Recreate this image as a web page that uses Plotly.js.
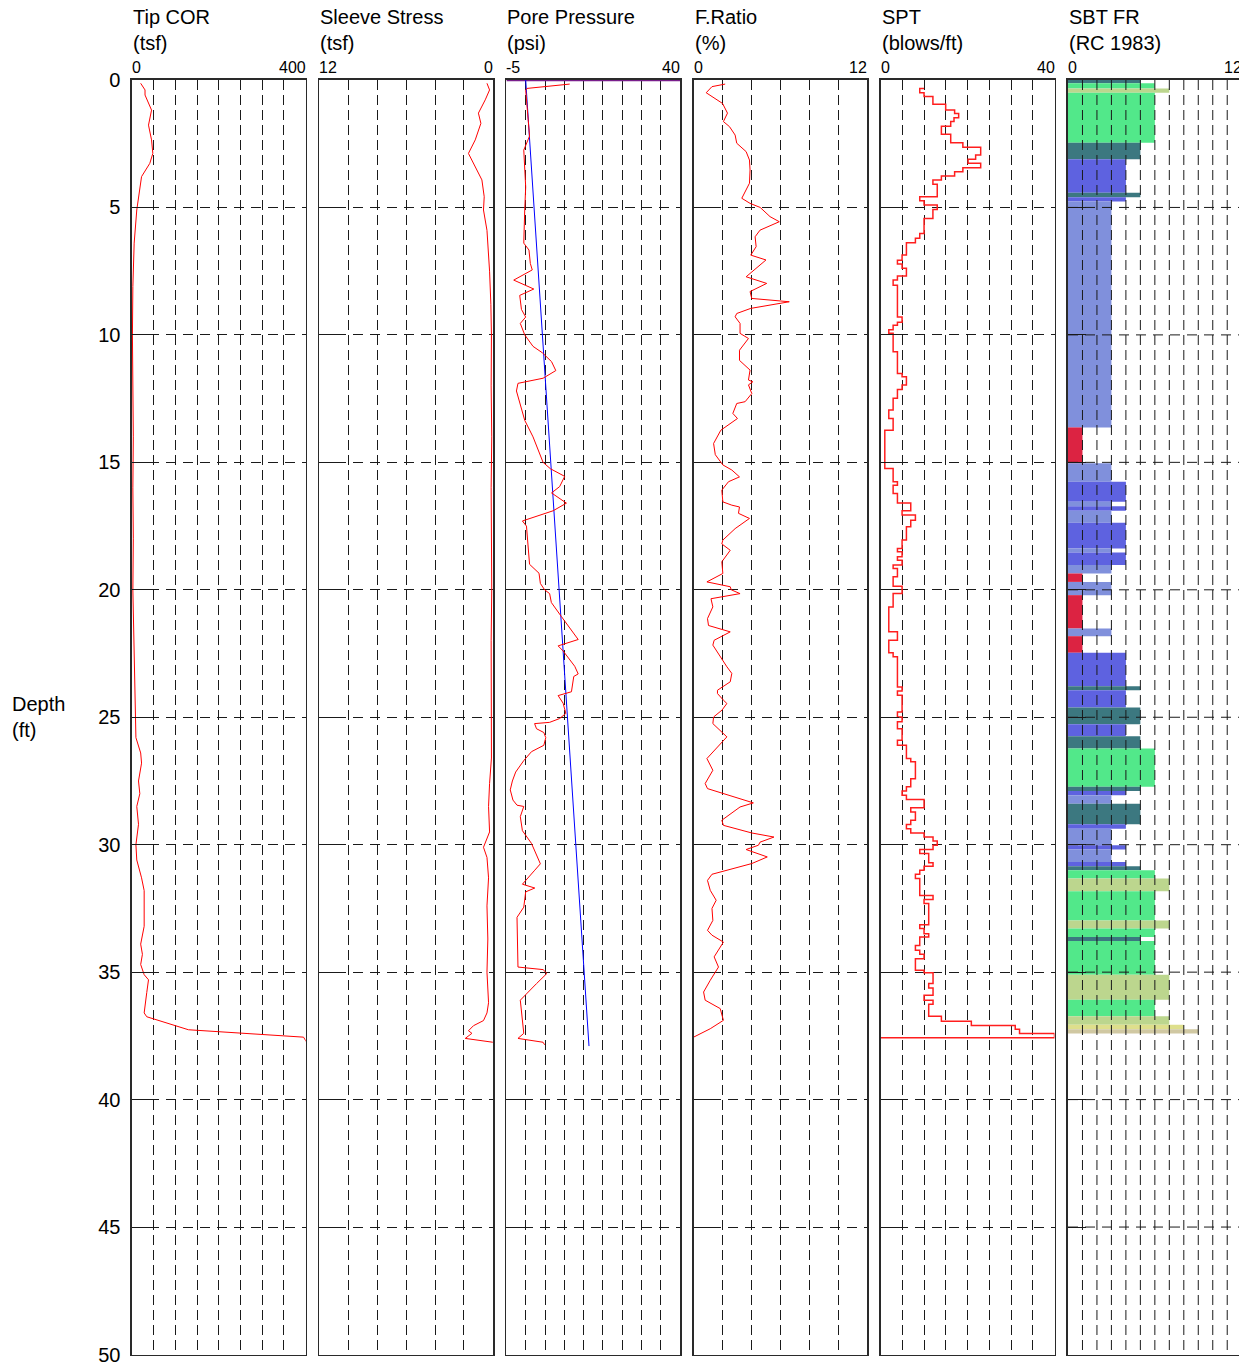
<!DOCTYPE html>
<html><head><meta charset="utf-8">
<script src="https://cdn.plot.ly/plotly-3.0.1.min.js"></script>
<style>html,body{margin:0;padding:0;overflow:hidden;background:#fff}</style>
</head><body><div id="chart"></div>
<script>
// ---------- panel definitions ----------
const panelTitles = ['Tip COR','Sleeve Stress','Pore Pressure','F.Ratio','SPT','SBT FR'];
const panelUnits  = ['(tsf)','(tsf)','(psi)','(%)','(blows/ft)','(RC 1983)'];
const panelRanges = [[0,400],[12,0],[-5,40],[0,12],[0,40],[0,12]];
const panelGridStep = [50,2,5,2,5,1];
const depthRange = [50,0];
const depthStep = 5;
const depthTickLabels = ['0','5','10','15','20','25','30','35','40','45','50'];

// ---------- Tip COR ----------
const tipDepth = [0.13,0.39,0.59,1.18,1.77,2.35,2.88,3.27,3.79,4.58,5.1,6.4,8.1,10,12,14,16,18,20,22.8,25,25.8,26.4,26.8,27.5,28.0,28.5,29.2,30,30.6,31.3,31.8,33.2,33.9,34.3,34.7,35.1,35.3,35.8,36.6,36.75,36.96,37.26,37.55,37.74];
const tipValue = [20,30,30,45,38,45,48,41,22,16,11,5,2,1,2,3,2,3,2,5,7,9,20,22,15,18,11,15,9,11,22,28,28,20,24,20,28,38,34,28,34,72,130,395,402];

// ---------- Sleeve Stress ----------
const sleeveDepth = [0.13,0.39,0.78,1.3,1.7,2.35,2.88,3.27,3.92,4.58,5.1,5.9,7.5,8.8,10,12,14,16,18,20,22,24,26.6,27.6,28.5,29.5,30.1,30.5,31.3,32.4,33.7,35,36.2,36.6,36.9,37.1,37.3,37.4,37.6,37.75];
const sleeveValue = [0.41,0.23,0.53,1.0,0.83,1.22,1.69,1.34,0.76,0.6,0.65,0.41,0.23,0.14,0.1,0.12,0.08,0.12,0.1,0.08,0.12,0.1,0.1,0.23,0.3,0.23,0.65,0.41,0.3,0.41,0.35,0.41,0.3,0.41,0.65,1.34,1.69,1.45,1.91,0];

// ---------- Pore Pressure ----------
const poreDepth = [0.16,0.33,0.4,1.18,2.2,2.75,4.2,5.1,6.4,6.67,7.2,7.45,7.85,8.2,8.45,9.0,9.3,9.55,10.0,10.45,10.7,11.05,11.4,11.7,11.9,12.2,12.7,13.35,14.0,15.0,15.25,15.55,15.95,16.2,16.6,16.9,17.3,17.5,19.0,19.35,19.75,20.0,20.15,20.5,21.05,21.95,22.2,22.4,23.0,23.3,23.4,24.0,24.15,24.45,24.85,25.05,25.2,25.25,25.45,25.6,25.8,26.1,26.35,26.7,27.15,27.5,27.85,28.25,28.45,28.5,28.9,29.45,29.95,30.35,30.75,31.0,31.3,31.55,31.7,31.85,32.45,32.85,34.8,34.9,35.05,35.25,35.45,36.1,36.9,37.4,37.6,37.75,37.85];
const poreValue = [11.4,0.35,0,0.35,1.0,-0.5,0,-0.25,-0.5,0.85,1.2,1.7,-3.1,2.1,-1.55,-1.1,0,-1.4,-0.25,1.9,4.3,6.7,7.8,4.5,-2.0,-2.4,-1.4,-0.25,1.9,4.5,6.4,10.1,8.8,6.7,10.55,7.1,-0.85,0.2,1.0,3.45,3.8,4.9,6.2,6.65,9.25,13.6,8.4,9.7,12.7,13.6,12.45,11.85,8.4,9.7,10.4,8.8,6.2,2.3,2.8,4.7,5.2,4.7,1.5,-0.5,-2.6,-3.45,-4.0,-3.3,-2.25,-0.5,-1.4,-0.85,1.5,2.6,3.8,2.35,0.6,-0.85,2.35,0,-0.5,-2.25,-2.0,4.5,5.5,4.1,2.8,-1.4,-0.85,-0.5,-2.0,4.5,4.9];
const hydroDepth = [0,37.9];
const hydroValue = [0,16.4];
const waterTableDepth = [0,0];
const waterTableValue = [-5,40];

// ---------- Friction Ratio ----------
const frDepth = [0.16,0.26,0.5,0.72,0.92,1.3,1.63,1.83,2.16,2.48,2.81,3.14,3.53,4.05,4.64,4.84,5.0,5.36,5.56,5.89,6.15,6.54,6.87,7.06,7.72,7.98,8.3,8.57,8.7,8.96,9.16,9.29,9.55,9.94,10.14,10.6,11.0,11.38,11.77,11.84,11.96,12.3,12.62,12.69,13.08,13.28,13.74,14.26,14.7,15.1,15.3,15.57,15.76,16.09,16.55,16.68,16.75,17.0,17.2,17.6,18.05,18.2,18.45,18.9,19.36,19.69,19.88,20.0,20.15,20.35,20.67,21.13,21.4,21.65,21.98,22.17,22.63,23.02,23.28,23.61,23.94,24.07,24.33,24.46,24.72,24.99,25.25,25.77,26.62,27.08,27.6,27.8,28.36,28.52,29.04,29.24,29.54,29.7,29.9,30.02,30.19,30.48,30.74,31.16,31.4,31.79,32.18,32.5,32.97,33.36,33.55,33.82,34.4,34.8,35.32,35.78,36.1,36.43,36.89,37.22,37.55];
const frValue = [2.18,1.27,0.87,1.5,2.0,2.34,2.06,2.48,2.87,2.98,3.63,3.86,3.9,3.86,3.33,3.9,4.6,5.28,5.92,4.59,4.25,4.32,3.95,5.0,3.63,5.05,3.9,4.02,6.61,3.95,2.98,2.87,3.21,3.21,3.79,3.17,3.17,3.9,3.79,4.09,3.79,4.02,3.56,2.98,2.71,3.03,1.88,1.38,1.5,2.02,2.64,3.17,2.41,1.95,2.02,2.64,3.17,3.1,3.86,2.87,2.02,1.95,2.53,1.95,2.02,0.92,2.53,2.6,3.21,1.2,1.33,0.96,1.03,2.53,1.42,1.33,1.84,2.3,2.64,2.53,1.65,1.65,2.06,2.3,1.96,1.38,1.33,2.3,0.92,1.33,0.8,0.96,4.13,3.21,1.95,2.06,4.02,5.55,4.59,4.48,3.63,5.09,4.02,1.27,0.96,1.15,1.56,1.27,1.33,0.96,1.27,2.06,1.42,1.72,1.15,0.69,0.8,1.84,2.06,1.15,0];

// ---------- SPT (value holds from its depth down to the next depth) ----------
const sptDepth = [0.33,0.33,0.5,0.65,0.956,1.18,1.31,1.48,1.63,1.81,2.13,2.46,2.64,2.94,3.11,3.27,3.44,3.6,3.77,3.92,4.09,4.58,4.74,4.9,5.08,5.43,6.02,6.21,6.38,6.87,7.07,7.22,7.39,7.69,7.85,8.05,9.3,9.5,9.62,9.8,9.94,10.66,11.51,11.64,11.97,12.14,12.49,12.95,13.28,13.74,15.24,15.76,15.9,16.22,16.59,16.9,17.07,17.27,17.53,18.05,18.38,18.51,18.7,18.84,19.03,19.16,19.49,19.86,20.15,20.67,21.65,21.98,22.47,22.63,23.81,23.97,24.14,24.79,24.99,25.18,25.45,25.9,26.1,26.62,26.75,27.41,27.73,27.89,28.06,28.23,28.55,28.72,29.04,29.21,29.37,29.54,29.7,29.85,30.02,30.19,30.35,30.71,30.85,31.0,31.16,31.33,31.99,32.15,32.31,33.14,33.29,33.49,33.62,33.95,34.14,34.3,34.47,34.93,35.02,35.45,35.62,35.91,36.1,36.26,36.73,36.93,37.09,37.24,37.41,37.57];
const sptValue = [9.96,8.97,9.96,12.0,14.94,17.0,17.93,16.86,16.1,13.95,16.1,18.9,23.0,21.84,20.1,23.0,18.9,17.0,13.95,12.0,13.0,8.97,9.96,13.0,12.0,9.96,8.97,7.97,5.9,4.9,3.83,4.9,5.9,3.83,2.84,3.83,4.9,3.83,2.84,1.84,2.84,3.83,4.9,5.9,4.9,3.83,2.84,1.84,2.84,0.92,2.84,3.83,2.84,3.83,6.9,4.9,7.97,6.9,5.9,4.9,3.83,4.9,3.83,4.9,2.84,3.83,2.84,4.9,2.84,1.84,3.83,1.84,2.84,3.83,4.9,3.83,4.9,3.83,4.9,3.83,4.9,3.83,5.9,6.9,7.97,6.9,5.9,4.9,5.9,9.96,6.9,7.97,6.9,5.9,6.9,9.96,12.03,13.0,12.03,8.97,11.03,12.03,9.96,8.97,7.97,8.97,12.03,9.96,11.03,8.97,9.96,11.03,8.97,7.97,8.97,9.96,7.97,9.96,12.03,11.03,12.03,9.96,12.03,11.03,13.95,20.85,30.96,31.95,40,0];

// ---------- SBT zones (Robertson & Campanella 1983) ----------
const sbtTop    = [0,0.13,0.33,0.5,2.46,3.11,4.42,4.6,4.77,13.63,15.04,15.76,16.55,16.72,16.9,17.37,18.38,18.54,19.03,19.36,19.69,20.21,21.52,21.82,22.47,23.78,23.94,24.62,25.27,25.75,26.23,27.73,27.89,28.06,28.39,29.2,29.37,30.02,30.19,30.68,30.85,31.0,31.33,31.83,32.97,33.29,33.62,33.78,35.1,36.08,36.73,37.06,37.24];
const sbtBottom = [0.13,0.33,0.5,2.46,3.11,4.42,4.6,4.77,13.63,15.04,15.76,16.55,16.72,16.9,17.37,18.38,18.54,19.03,19.36,19.69,20.21,21.52,21.82,22.47,23.78,23.94,24.62,25.27,25.75,26.23,27.73,27.89,28.06,28.39,29.2,29.37,30.02,30.19,30.68,30.85,31.0,31.33,31.83,32.97,33.29,33.62,33.78,35.1,36.08,36.73,37.06,37.24,37.41];
const sbtZone   = [5,6,7,6,5,4,5,4,3,1,3,4,3,4,3,4,3,4,3,1,3,1,3,1,4,5,4,5,4,5,6,5,4,3,5,4,3,4,3,4,5,6,7,6,7,6,5,6,7,6,7,8,9];
const zoneColors = {1:'#DC2342',2:'#B07050',3:'#8090DC',4:'#5E62E0',5:'#3C7880',6:'#52E88A',7:'#BCD68E',8:'#DEDF8C',9:'#D0C8A2'};

// ---------- geometry ----------
const W = 1245, H = 1362;
const panelLeft0 = 132, panelPitch = 187.2, panelWidth = 173.7;
const plotTop = 80, plotBottom = 1354.5;
const yDom = [1 - plotBottom/H, 1 - plotTop/H];
const FONT = 'Liberation Sans, Arial, sans-serif';
const gridCol = '#1a1a1a';

const layout = {
  width: W, height: H,
  margin: {l:0, r:0, t:0, b:0},
  paper_bgcolor: '#fff', plot_bgcolor: '#fff',
  showlegend: false,
  font: {family: FONT, color: '#000'},
  annotations: [], shapes: []
};

for (let i = 0; i < 6; i++) {
  const n = i === 0 ? '' : String(i+1);
  const left = panelLeft0 + i*panelPitch;
  const isSBT = i === 5;
  const r = panelRanges[i];
  layout['xaxis'+n] = {
    domain: [left/W, (left+panelWidth)/W],
    range: r, anchor: 'y'+n, side: 'top',
    showticklabels: false, ticks: '',
    tick0: Math.min(r[0], r[1]), dtick: panelGridStep[i],
    showgrid: !isSBT, gridcolor: gridCol, gridwidth: 1, griddash: '10px,5px',
    showline: true, mirror: true, linecolor: '#2a2a2a', linewidth: 1.6,
    zeroline: false, fixedrange: true
  };
  layout['yaxis'+n] = {
    domain: yDom, range: depthRange, anchor: 'x'+n,
    tickmode: 'array', tickvals: depthTickLabels.map(Number), ticktext: depthTickLabels,
    showgrid: !isSBT, gridcolor: gridCol, gridwidth: 1, griddash: '10px,7px',
    ticks: 'inside', ticklen: 18, tickcolor: '#1a1a1a', tickwidth: 1,
    showticklabels: i === 0, tickfont: {size: 20, family: FONT, color:'#000'},
    ticklabelstandoff: 6, ticklabeloverflow: 'allow',
    showline: true, mirror: true, linecolor: '#2a2a2a', linewidth: 1.6,
    zeroline: false, fixedrange: true
  };
  // titles
  layout.annotations.push({
    xref: 'x'+n, yref: 'paper', x: r[0], y: 1 - 30/H, xshift: -1,
    xanchor: 'left', yanchor: 'middle', align: 'left', showarrow: false,
    text: panelTitles[i] + '<br>' + panelUnits[i],
    font: {size: 20, family: FONT, color: '#000'}
  });
  // end labels of scale
  layout.annotations.push({
    xref: 'x'+n, yref: 'paper', x: r[0], y: 1 - 68/H, xshift: -2,
    xanchor: 'left', yanchor: 'middle', showarrow: false,
    text: String(r[0]), font: {size: 16, family: FONT, color: '#000'}
  });
  layout.annotations.push({
    xref: 'x'+n, yref: 'paper', x: r[1], y: 1 - 68/H, xshift: 2,
    xanchor: 'right', yanchor: 'middle', showarrow: false,
    text: String(r[1]), font: {size: 16, family: FONT, color: '#000'}
  });
}

// SBT grid drawn above the bars
{
  const r = panelRanges[5];
  for (let v = r[0] + panelGridStep[5]; v < r[1]; v += panelGridStep[5]) {
    layout.shapes.push({type:'line', xref:'x6', yref:'y6', x0:v, x1:v, y0:depthRange[1], y1:depthRange[0],
      layer:'above', line:{color:gridCol, width:1, dash:'10px,5px'}});
  }
  for (let d = depthStep; d < depthRange[0]; d += depthStep) {
    layout.shapes.push({type:'line', xref:'x6', yref:'y6', x0:r[0], x1:r[1], y0:d, y1:d,
      layer:'above', line:{color:gridCol, width:1, dash:'10px,7px'}});
  }
}

layout.annotations.push({
  xref: 'paper', yref: 'paper', x: 10/W, y: 1 - 717/H,
  xanchor: 'left', yanchor: 'middle', align: 'left', showarrow: false,
  text: 'Depth<br>(ft)', font: {size: 20, family: FONT, color: '#000'}
});

const red = 'rgb(255,0,0)';
const traces = [
  {type:'scatter', mode:'lines', x: tipValue, y: tipDepth, xaxis:'x', yaxis:'y', line:{color:red, width:1}},
  {type:'scatter', mode:'lines', x: sleeveValue, y: sleeveDepth, xaxis:'x2', yaxis:'y2', line:{color:red, width:1}},
  {type:'scatter', mode:'lines', x: waterTableValue, y: waterTableDepth, xaxis:'x3', yaxis:'y3', line:{color:'#7A1F8C', width:2.5}},
  {type:'scatter', mode:'lines', x: hydroValue, y: hydroDepth, xaxis:'x3', yaxis:'y3', line:{color:'#0000FF', width:1}},
  {type:'scatter', mode:'lines', x: poreValue, y: poreDepth, xaxis:'x3', yaxis:'y3', line:{color:red, width:1}},
  {type:'scatter', mode:'lines', x: frValue, y: frDepth, xaxis:'x4', yaxis:'y4', line:{color:red, width:1}},
  {type:'scatter', mode:'lines', x: sptValue, y: sptDepth, xaxis:'x5', yaxis:'y5', line:{color:'rgb(255,30,30)', width:1.5, shape:'vh'}},
  {type:'bar', orientation:'h', xaxis:'x6', yaxis:'y6',
   x: sbtZone, base: 0,
   y: sbtTop.map((t,k) => (t + sbtBottom[k])/2),
   width: sbtTop.map((t,k) => sbtBottom[k] - t),
   marker: {color: sbtZone.map(z => zoneColors[z]), line:{width:0}}}
];

Plotly.newPlot('chart', traces, layout, {displayModeBar:false, staticPlot:true});
</script>
</body></html>
